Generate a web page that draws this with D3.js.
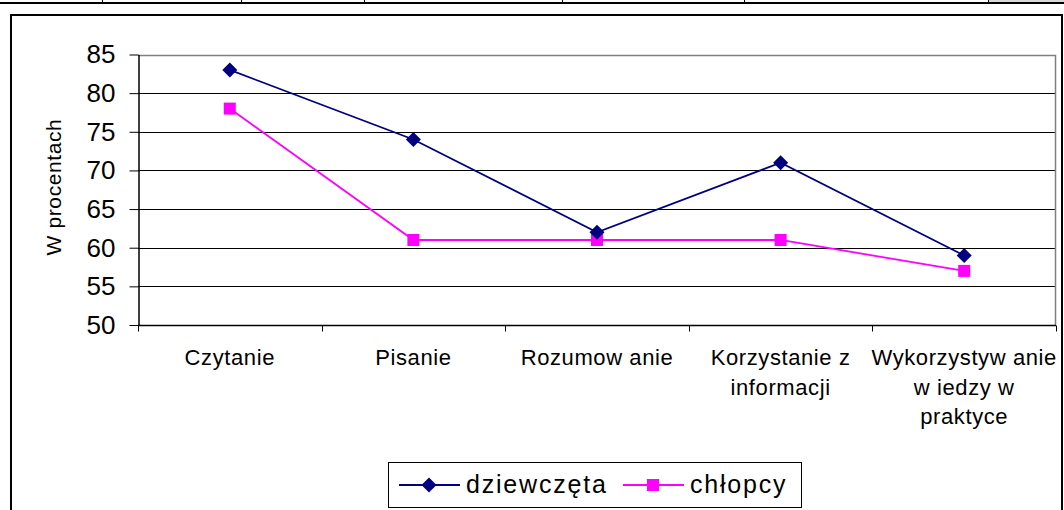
<!DOCTYPE html>
<html>
<head>
<meta charset="utf-8">
<script src="https://cdn.jsdelivr.net/npm/d3@7"></script>
<style>
body { margin: 0; background: #fff; }
svg { display: block; font-family: "Liberation Sans", Arial, sans-serif; }
</style>
</head>
<body>
<div id="chart"></div>
<script>
// data
const categories = ["Czytanie", "Pisanie", "Rozumow anie", "Korzystanie z informacji", "Wykorzystyw anie w iedzy w praktyce"];
const categoryLines = [["Czytanie"], ["Pisanie"], ["Rozumow anie"], ["Korzystanie z", "informacji"], ["Wykorzystyw anie", "w iedzy w", "praktyce"]];
const dziewczeta = [83, 74, 62, 71, 59];
const chlopcy = [78, 61, 61, 61, 57];
const yTicks = [50, 55, 60, 65, 70, 75, 80, 85];
const tableCols = [102, 241, 364, 562, 744, 988];

const W = 1064, H = 510;
const plot = {left: 138, right: 1056, top: 54.5, bottom: 325};

const svg = d3.select("#chart").append("svg")
	.attr("width", W)
	.attr("height", H);

// table row remnant at the top
svg.append("rect").attr("x", 989).attr("y", 0).attr("width", 75).attr("height", 3).attr("fill", "#d8d8d8");
svg.append("line").attr("x1", 0).attr("x2", W).attr("y1", 3).attr("y2", 3)
	.attr("stroke", "#000").attr("stroke-width", 2);
tableCols.forEach(x => {
	svg.append("line").attr("x1", x + 0.5).attr("x2", x + 0.5).attr("y1", 0).attr("y2", 3)
		.attr("stroke", "#000").attr("stroke-width", 1);
});

// outer frame
svg.append("path")
	.attr("d", "M11,510 V15 H1062 V510")
	.attr("fill", "none").attr("stroke", "#000").attr("stroke-width", 2);

let x = d3.scaleBand()
	.domain(categories)
	.range([plot.left, plot.right]);
let y = d3.scaleLinear()
	.domain([50, 85])
	.range([plot.bottom, plot.top]);
const cx = c => x(c) + x.bandwidth() / 2;

// gridlines
svg.append("g")
	.selectAll("line")
	.data(yTicks.filter(t => t > 50 && t < 85))
	.enter().append("line")
	.attr("x1", plot.left).attr("x2", plot.right)
	.attr("y1", d => Math.round(y(d)) + 0.5).attr("y2", d => Math.round(y(d)) + 0.5)
	.attr("stroke", "#000").attr("stroke-width", 1);

// plot border (gray top / right)
svg.append("path")
	.attr("d", `M${plot.left},${Math.round(plot.top) + 0.5} H${plot.right - 0.5} V${plot.bottom}`)
	.attr("fill", "none").attr("stroke", "#808080").attr("stroke-width", 1.5);

// y axis
let yAxis = svg.append("g")
	.attr("transform", "translate(" + (plot.left + 0.5) + ",0)")
	.call(d3.axisLeft(y).tickValues(yTicks).tickSize(9).tickSizeOuter(0).tickPadding(14));
yAxis.select(".domain").attr("stroke", "#000").attr("stroke-width", 1.5);
yAxis.selectAll("text").attr("font-size", 26).attr("fill", "#000")
	.attr("font-family", "Liberation Sans, Arial, sans-serif");

// x axis
let xAxis = svg.append("g")
	.attr("transform", "translate(0," + (plot.bottom + 0.5) + ")");
xAxis.append("line")
	.attr("x1", plot.left).attr("x2", plot.right)
	.attr("stroke", "#000").attr("stroke-width", 1.5);
const boundaries = categories.map(c => x(c)).concat([x(categories[categories.length - 1]) + x.bandwidth()]);
xAxis.selectAll(".tick")
	.data(boundaries)
	.enter().append("line")
	.attr("x1", d => Math.round(d) + 0.5).attr("x2", d => Math.round(d) + 0.5)
	.attr("y1", 0).attr("y2", 6)
	.attr("stroke", "#000");
xAxis.selectAll(".lbl")
	.data(categories)
	.enter().append("text")
	.attr("text-anchor", "middle")
	.attr("font-size", 22)
	.attr("letter-spacing", 0.6)
	.attr("fill", "#000")
	.each(function(d, i) {
		d3.select(this).selectAll("tspan")
			.data(categoryLines[i])
			.enter().append("tspan")
			.attr("x", cx(d))
			.attr("y", (t, j) => 39.5 + j * 29.5)
			.text(t => t);
	});

// y axis title
svg.append("text")
	.attr("transform", "translate(61,187) rotate(-90)")
	.attr("text-anchor", "middle")
	.attr("font-size", 21)
	.attr("letter-spacing", 0.6)
	.attr("fill", "#000")
	.text("W procentach");

// series
const series = [
	{name: "dziewczęta", values: dziewczeta, color: "#000080", marker: "diamond"},
	{name: "chłopcy", values: chlopcy, color: "#FF00FF", marker: "square"}
];

let line = d3.line()
	.x((d, i) => cx(categories[i]))
	.y(d => y(d));

function drawMarker(g, s, px, py) {
	if (s.marker === "diamond") {
		g.append("path")
			.attr("d", "M0,-7.5 L7.5,0 L0,7.5 L-7.5,0 Z")
			.attr("transform", "translate(" + px + "," + py + ")")
			.attr("fill", s.color);
	} else {
		g.append("rect")
			.attr("x", px - 6).attr("y", py - 6)
			.attr("width", 12).attr("height", 12)
			.attr("fill", s.color);
	}
}

series.slice().reverse().forEach(s => {
	let g = svg.append("g");
	g.append("path")
		.datum(s.values)
		.attr("d", line)
		.attr("fill", "none")
		.attr("stroke", s.color)
		.attr("stroke-width", 1.8);
	s.values.forEach((v, i) => drawMarker(g, s, cx(categories[i]), y(v)));
});

// legend
let legend = svg.append("g");
legend.append("rect")
	.attr("x", 388.5).attr("y", 462.5)
	.attr("width", 413).attr("height", 45)
	.attr("fill", "#fff").attr("stroke", "#000").attr("stroke-width", 1);
const legendX = [399, 623];
series.forEach((s, i) => {
	let lx = legendX[i], ly = 485;
	legend.append("line")
		.attr("x1", lx).attr("x2", lx + 61).attr("y1", ly).attr("y2", ly)
		.attr("stroke", s.color).attr("stroke-width", 1.8);
	drawMarker(legend, s, lx + 30, ly);
	legend.append("text")
		.attr("x", lx + 67).attr("y", ly + 8)
		.attr("font-size", 25)
		.attr("letter-spacing", 1.8)
		.attr("fill", "#000")
		.text(s.name);
});
</script>
</body>
</html>
